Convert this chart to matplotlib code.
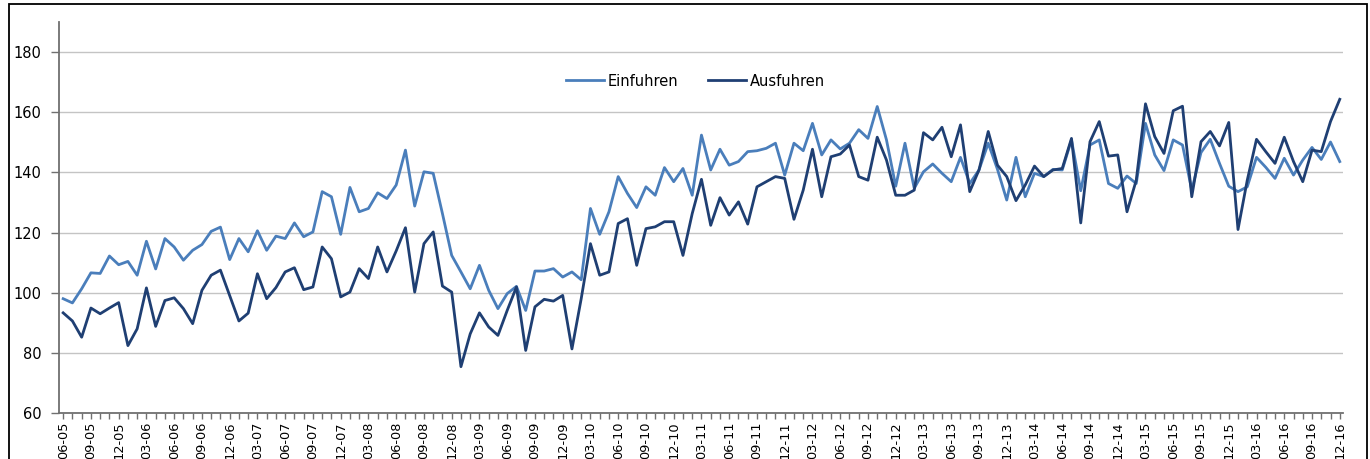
import matplotlib
matplotlib.use("Agg")
import matplotlib.pyplot as plt
from matplotlib.patches import Rectangle
import pandas as pd
import numpy as np

plt.rcParams['font.family'] = ['DejaVu Sans']

months = list(pd.date_range('2005-06-01', periods=139, freq='MS').strftime('%m-%y'))

einfuhren = [
    98.0, 96.6, 101.3, 106.6, 106.4, 112.2, 109.3, 110.4, 105.8, 117.1,
    107.9, 118.0, 115.2, 110.8, 114.1, 116.0, 120.4, 121.8, 111.0, 118.0,
    113.6, 120.6, 114.1, 118.8, 118.0, 123.2, 118.6, 120.2, 133.6, 131.9,
    119.4, 135.0, 126.9, 128.0, 133.2, 131.3, 135.8, 147.4, 128.8, 140.2,
    139.7, 126.3, 112.4, 106.9, 101.3, 109.1, 100.8, 94.7, 99.7, 102.1,
    94.1, 107.2, 107.2, 108.0, 105.2, 106.9, 104.3, 128.0, 119.4, 126.9,
    138.6, 133.0, 128.3, 135.2, 132.4, 141.6, 136.9, 141.3, 132.4, 152.4,
    140.8, 147.7, 142.4, 143.6, 146.9, 147.2, 148.0, 149.7, 139.1, 149.7,
    147.2, 156.3, 145.8, 150.8, 147.8, 149.7, 154.2, 151.3, 161.9, 150.8,
    135.4, 149.7, 134.7, 140.2, 142.8, 139.7, 136.9, 145.0, 136.3, 140.8,
    149.7, 141.0, 130.8, 145.0, 131.9, 139.7, 138.6, 141.0, 140.8, 150.8,
    133.9, 149.1, 150.8, 136.3, 134.7, 138.8, 136.3, 156.3, 145.8, 140.6,
    150.8, 149.1, 134.1, 146.6, 151.0, 143.0, 135.4, 133.6, 135.2, 145.0,
    141.7, 138.0, 144.7, 139.1, 144.1, 148.3, 144.3, 150.1, 143.6,
]

ausfuhren = [
    93.3, 90.6, 85.2, 94.9, 93.0, 94.9, 96.7, 82.4, 88.0, 101.6,
    88.8, 97.4, 98.3, 94.7, 89.7, 100.8, 105.8, 107.5, 99.1, 90.6,
    93.2, 106.3, 98.0, 101.7, 106.9, 108.3, 101.0, 101.9, 115.2, 111.3,
    98.6, 100.2, 108.0, 104.7, 115.2, 106.9, 113.9, 121.6, 100.2, 116.3,
    120.2, 102.2, 100.2, 75.4, 86.3, 93.3, 88.6, 85.8, 94.1, 101.9,
    80.8, 95.3, 97.8, 97.2, 99.1, 81.3, 98.0, 116.3, 105.8, 106.9,
    123.0, 124.6, 109.1, 121.3, 121.9, 123.6, 123.6, 112.4, 126.3, 137.7,
    122.4, 131.6, 125.8, 130.2, 122.8, 135.2, 136.9, 138.6, 138.0, 124.4,
    134.1, 147.7, 131.9, 145.2, 146.1, 149.1, 138.6, 137.4, 151.7, 144.1,
    132.4, 132.4, 134.1, 153.2, 150.8, 155.0, 145.2, 155.8, 133.6, 140.8,
    153.6, 142.4, 138.6, 130.6, 135.8, 142.1, 138.6, 140.8, 141.3, 151.3,
    123.2, 150.2, 156.9, 145.4, 145.8, 126.9, 137.4, 162.8, 151.9, 146.3,
    160.5, 162.0, 131.9, 150.2, 153.6, 148.8, 156.6, 121.0, 137.4, 151.0,
    146.9, 143.0, 151.7, 143.6, 136.9, 147.4, 146.9, 156.9, 164.3,
]

W, H = 1370, 459
fig = plt.figure(figsize=(W / 100, H / 100), dpi=100)

# outer frame
fig.patches.append(Rectangle((9 / W, -0.05), (1367 - 9) / W, 1.05 - 4.5 / H,
                             transform=fig.transFigure, fill=False,
                             edgecolor='black', linewidth=1.3))

left, right, top, bottom = 59, 1343, 22, 413
ax = fig.add_axes([left / W, 1 - bottom / H, (right - left) / W, (bottom - top) / H])

x = np.arange(len(months))
ax.plot(x, einfuhren, color='#4a7ebb', linewidth=2.0, label='Einfuhren', solid_joinstyle='round')
ax.plot(x, ausfuhren, color='#1f3f73', linewidth=2.0, label='Ausfuhren', solid_joinstyle='round')

ax.set_xlim(-0.45, len(months) - 1 + 0.35)
ax.set_ylim(60, 190)
ax.set_yticks(np.arange(60, 181, 20))
ax.yaxis.grid(True, color='#c4c4c4', linewidth=1.0)
ax.set_axisbelow(True)

ax.set_xticks(x)
ax.set_xticklabels([m if i % 3 == 0 else '' for i, m in enumerate(months)],
                   rotation=90, fontsize=9.3, va='top', ha='center')
ax.tick_params(axis='x', length=4, width=1, color='#707070', pad=2)
ax.tick_params(axis='y', length=5.5, width=1, color='#707070', pad=7, labelsize=10.5)

for s in ['top', 'right']:
    ax.spines[s].set_visible(False)
for s in ['left', 'bottom']:
    ax.spines[s].set_color('#707070')
    ax.spines[s].set_linewidth(1.3)

leg = ax.legend(loc='center', bbox_to_anchor=(0.4957, 0.849), ncol=2, frameon=False,
                fontsize=10.5, handlelength=2.6, columnspacing=2.0, handletextpad=0.3)

fig.savefig('out.png', dpi=100)
